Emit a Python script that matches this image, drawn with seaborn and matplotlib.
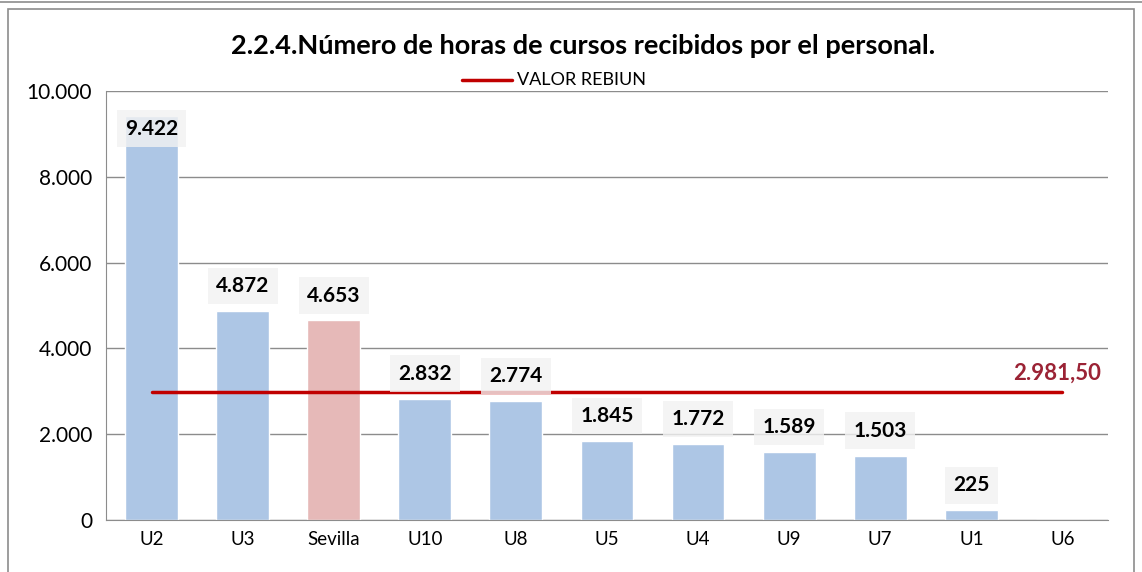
import seaborn as sns
import matplotlib.pyplot as plt
import matplotlib.patches as mpatches
import pandas as pd

categorias = ['U2', 'U3', 'Sevilla', 'U10', 'U8', 'U5', 'U4', 'U9', 'U7', 'U1', 'U6']
horas = [9422, 4872, 4653, 2832, 2774, 1845, 1772, 1589, 1503, 225, 0]
valor_rebiun = 2981.5
etiquetas_y = ['0', '2.000', '4.000', '6.000', '8.000', '10.000']

azul = '#adc6e5'
rosa = '#e6b9b8'
colores = {c: (rosa if c == 'Sevilla' else azul) for c in categorias}

df = pd.DataFrame({'Universidad': categorias, 'Horas': horas})

sns.set_style('white')
plt.rcParams['font.family'] = ['Lato', 'DejaVu Sans']
plt.rcParams['text.color'] = 'black'
plt.rcParams['xtick.color'] = 'black'
plt.rcParams['ytick.color'] = 'black'

fig = plt.figure(figsize=(11.42, 5.72), dpi=100)
ax = fig.add_axes([0.0928, 0.0909, 0.8774, 0.750])

sns.barplot(data=df, x='Universidad', y='Horas', hue='Universidad',
            palette=colores, order=categorias, width=0.58, legend=False,
            saturation=1, ax=ax)

ax.set_ylim(0, 10000)
ax.set_xlim(-0.5, len(categorias) - 0.5)
ax.set_yticks([0, 2000, 4000, 6000, 8000, 10000])
ax.set_yticklabels(etiquetas_y, fontsize=15)
ax.tick_params(axis='x', labelsize=13.5, length=0, pad=8)
ax.tick_params(axis='y', length=0, pad=10)
ax.yaxis.grid(True, color='#8c8c8c', linewidth=1)
ax.set_axisbelow(True)
ax.set_xlabel('')
ax.set_ylabel('')
for lado in ['top', 'right']:
    ax.spines[lado].set_visible(False)
ax.spines['left'].set_color('#8c8c8c')
ax.spines['bottom'].set_color('#8c8c8c')

# etiquetas de datos
for i, v in enumerate(horas):
    if v == 0:
        continue
    y = min(v + 580, 9120)
    txt = f'{v:,}'.replace(',', '.')
    ax.text(i, y, txt, ha='center', va='center', fontsize=15, fontweight='bold',
            color='black',
            bbox=dict(boxstyle='square,pad=0.4', fc='#f2f2f2', ec='none', alpha=0.8),
            zorder=5)

# linea REBIUN
ax.plot([0, len(categorias) - 1], [valor_rebiun, valor_rebiun], color='#c00000',
        linewidth=2.5, zorder=4, label='VALOR REBIUN')
ax.text(len(categorias) - 1 + 0.42, valor_rebiun + 200, '2.981,50', ha='right',
        va='bottom', fontsize=16, fontweight='bold', color='#9b2335')

# leyenda
fig.lines.append(plt.Line2D([462 / 1142, 512 / 1142], [0.861, 0.861],
                            color='#c00000', linewidth=2.5, transform=fig.transFigure))
fig.text(517 / 1142, 0.861, 'VALOR REBIUN', va='center', ha='left', fontsize=13)

fig.text(0.511, 0.92, '2.2.4.Número de horas de cursos recibidos por el personal.',
         ha='center', va='center', fontsize=19.5, fontweight='bold')

# marco
fig.patches.append(mpatches.Rectangle((8 / 1142, -0.01), 1126 / 1142, 1 - 9 / 572 + 0.01,
                                      transform=fig.transFigure, fill=False,
                                      edgecolor='#8c8c8c', linewidth=1.2))
fig.lines.append(plt.Line2D([0, 1], [1 - 2 / 572, 1 - 2 / 572], color='#8c8c8c',
                            linewidth=1.2, transform=fig.transFigure))

fig.savefig('out.png', dpi=100)
